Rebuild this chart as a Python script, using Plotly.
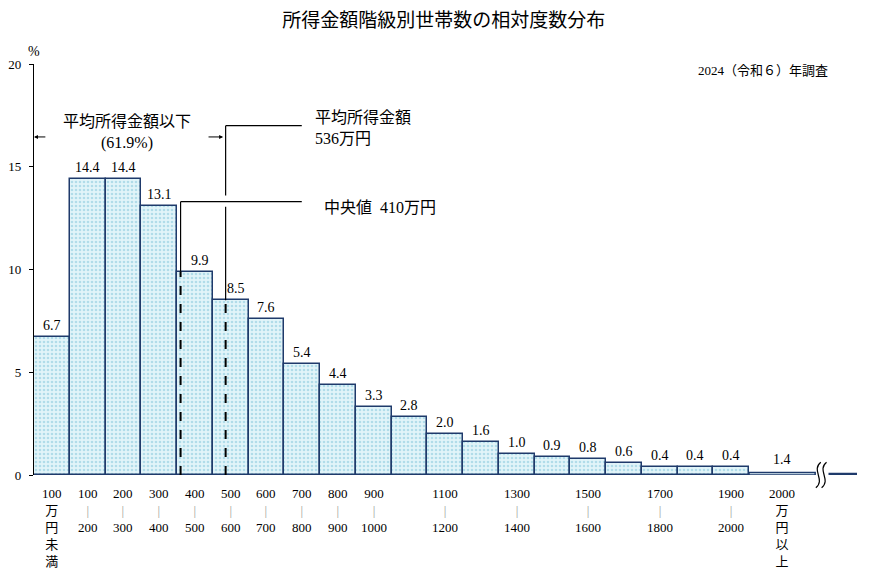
import plotly.graph_objects as go

# 所得金額階級（万円）と相対度数（%）
bin_lower = [0, 100, 200, 300, 400, 500, 600, 700, 800, 900,
             1000, 1100, 1200, 1300, 1400, 1500, 1600, 1700, 1800, 1900]
bin_width = 100
share = [6.7, 14.4, 14.4, 13.1, 9.9, 8.5, 7.6, 5.4, 4.4, 3.3,
         2.8, 2.0, 1.6, 1.0, 0.9, 0.8, 0.6, 0.4, 0.4, 0.4]
top_bin_start = 2000
top_bin_share = 1.4

SEP = "<span style='color:#9a9a9a'>|</span>"
x_labels = ["100<br>万<br>円<br>未<br>満", "100<br>{s}<br>200", "200<br>{s}<br>300",
            "300<br>{s}<br>400", "400<br>{s}<br>500", "500<br>{s}<br>600",
            "600<br>{s}<br>700", "700<br>{s}<br>800", "800<br>{s}<br>900",
            "900<br>{s}<br>1000", "", "1100<br>{s}<br>1200", "", "1300<br>{s}<br>1400",
            "", "1500<br>{s}<br>1600", "", "1700<br>{s}<br>1800", "", "1900<br>{s}<br>2000"]
top_bin_label = "2000<br>万<br>円<br>以<br>上"

median = 410
mean = 536
below_mean_pct = 61.9

y_ticks = [0, 5, 10, 15, 20]

SERIF = "Liberation Serif, Noto Sans CJK JP"
NAVY = "#1f3a6b"
XMAX = 2302

centers = [b + bin_width / 2 for b in bin_lower]
med_idx = int(median // bin_width)
mean_idx = int(mean // bin_width)

fig = go.Figure()
fig.add_bar(x=centers, y=share, width=bin_width,
            marker=dict(color="#e2f4f9", line=dict(color=NAVY, width=1.5),
                        pattern=dict(shape=".", fgcolor="#7fc3da", bgcolor="#e2f4f9",
                                     size=4, solidity=0.35)),
            hoverinfo="x+y", showlegend=False)

annotations = []
# bar value labels (nudged right where the median / mean line passes)
for i, (c, v) in enumerate(zip(centers, share)):
    annotations.append(dict(x=c, y=v, text=f"{v:.1f}", showarrow=False,
                            xshift=5 if i in (med_idx, mean_idx) else 0,
                            yanchor="bottom", yshift=2, font=dict(size=14)))
annotations.append(dict(x=top_bin_start + 92, y=0, text=f"{top_bin_share:.1f}",
                        showarrow=False, yanchor="bottom", yshift=6, font=dict(size=14)))

# x category labels
for c, t in zip(centers, x_labels):
    if t:
        annotations.append(dict(x=c, y=0, yref="paper", text=t.format(s=SEP), showarrow=False,
                                yanchor="top", yshift=-9, font=dict(size=13)))
annotations.append(dict(x=top_bin_start + 92, y=0, yref="paper", text=top_bin_label,
                        showarrow=False, yanchor="top", yshift=-9, font=dict(size=13)))

# median / mean lines
shapes = []
med_h = share[med_idx]
mean_h = share[mean_idx]
line_end = 749
med_level = 13.3
mean_level = 17.0
shapes += [
    dict(type="line", x0=median, x1=median, y0=0, y1=med_h, line=dict(color="black", width=2, dash="dash")),
    dict(type="line", x0=median, x1=median, y0=med_h, y1=med_level, line=dict(color="black", width=1.2)),
    dict(type="line", x0=median, x1=line_end, y0=med_level, y1=med_level, line=dict(color="black", width=1.2)),
    dict(type="line", x0=mean, x1=mean, y0=0, y1=mean_h, line=dict(color="black", width=2, dash="dash")),
    dict(type="line", x0=mean, x1=mean, y0=mean_h, y1=med_level - 0.25, line=dict(color="black", width=1.2)),
    dict(type="line", x0=mean, x1=mean, y0=med_level + 0.3, y1=mean_level, line=dict(color="black", width=1.2)),
    dict(type="line", x0=mean, x1=line_end, y0=mean_level, y1=mean_level, line=dict(color="black", width=1.2)),
]

# top open-ended class drawn flat with axis break
shapes += [
    dict(type="rect", x0=top_bin_start, x1=2185, y0=0, y1=0.12,
         line=dict(color=NAVY, width=1.5), fillcolor="#e2f4f9"),
    dict(type="rect", x0=2224, x1=XMAX, y0=0, y1=0.08,
         line=dict(color=NAVY, width=1.2), fillcolor=NAVY),
    dict(type="path", xref="paper", yref="paper",
         path="M 0.956,0.031 C 0.944,0.012 0.962,-0.012 0.950,-0.031 "
              "M 0.963,0.031 C 0.951,0.012 0.969,-0.012 0.957,-0.031",
         line=dict(color="black", width=1.2)),
]

annotations += [
    dict(x=780, y=16.9, text="平均所得金額<br>%d万円" % mean, showarrow=False,
         xanchor="left", align="left", font=dict(size=16)),
    dict(x=806, y=13.0, text="中央値  %d万円" % median, showarrow=False,
         xanchor="left", font=dict(size=16)),
    dict(x=260, y=16.65, text="平均所得金額以下<br>(%.1f%%)" % below_mean_pct, showarrow=False,
         font=dict(size=16)),
    dict(x=0, y=16.45, ax=36, ay=16.45, axref="x", ayref="y", text="", showarrow=True,
         arrowhead=2, arrowsize=0.8, arrowwidth=1, arrowcolor="black"),
    dict(x=mean - 7, y=16.45, ax=484, ay=16.45, axref="x", ayref="y", text="", showarrow=True,
         arrowhead=2, arrowsize=0.8, arrowwidth=1, arrowcolor="black"),
    dict(x=2227, y=19.7, text="2024（令和６）年調査", showarrow=False,
         xanchor="right", font=dict(size=13)),
    dict(x=0, y=20, yref="y", text="%", showarrow=False, yanchor="bottom", yshift=3,
         font=dict(size=14)),
]

# page body has an 8px margin, so the figure is sized to fit inside the window
fig.update_layout(
    width=877, height=569,
    margin=dict(l=26, r=28, t=56, b=102, autoexpand=False),
    paper_bgcolor="white", plot_bgcolor="white",
    font=dict(family=SERIF, color="black", size=13),
    title=dict(text="所得金額階級別世帯数の相対度数分布", x=0.497, xanchor="center",
               y=0.979, yanchor="middle", font=dict(size=19)),
    bargap=0,
    shapes=shapes,
    annotations=annotations,
    xaxis=dict(range=[0, XMAX], showgrid=False, showticklabels=False, ticks="",
               zeroline=False, showline=False, fixedrange=True, automargin=False),
    yaxis=dict(range=[0, 20], tickvals=y_ticks, showgrid=False, zeroline=False,
               showline=True, linecolor="black", linewidth=1.2,
               ticks="outside", ticklen=4, tickcolor="black", automargin=False,
               ticklabelstandoff=5, tickfont=dict(size=13), fixedrange=True),
)

fig.write_html("out.html")
